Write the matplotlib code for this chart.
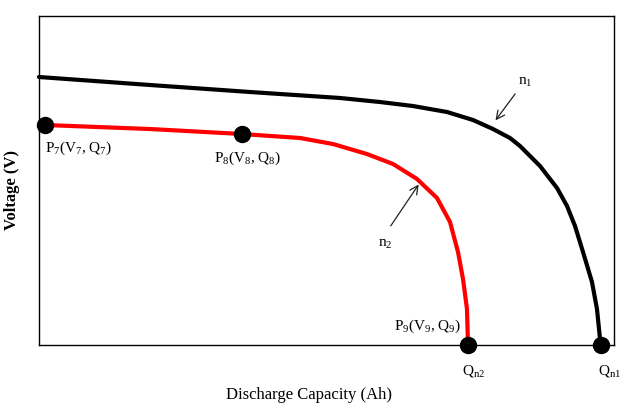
import matplotlib
matplotlib.use('Agg')
import matplotlib.pyplot as plt

# curve n1 (black) - capacity / voltage, normalised 0..100
n1_cap = [0, 19.30, 36.70, 52.35, 59.30, 65.04, 70.96, 75.48, 78.96, 81.91, 83.65,
          87.13, 90.09, 91.83, 93.22, 94.61, 96.17, 97.04, 97.57, 97.74]
n1_volt = [81.46, 79.03, 76.90, 75.08, 73.86, 72.64, 70.82, 68.39, 65.65, 62.92, 60.49,
           54.41, 47.72, 42.25, 36.17, 28.27, 19.15, 10.94, 1.82, 0]

# curve n2 (red)
n2_cap = [0, 1.04, 19.30, 35.30, 45.39, 51.13, 57.04, 61.57, 65.74, 69.22, 71.48,
          72.87, 73.74, 74.43, 74.61]
n2_volt = [67.17, 66.87, 65.65, 64.13, 62.92, 61.09, 58.05, 55.02, 50.46, 44.68, 37.39,
           28.27, 20.06, 10.94, 0]

# marked points
pt_cap = [1.04, 35.30, 74.61, 97.74]
pt_volt = [66.87, 64.13, 0, 0]
pt_labels = ['P$_7$(V$_7$, Q$_7$)', 'P$_8$(V$_8$, Q$_8$)', 'P$_9$(V$_9$, Q$_9$)']

plt.rcParams['font.family'] = 'Liberation Serif'
plt.rcParams['mathtext.fontset'] = 'custom'
plt.rcParams['mathtext.rm'] = 'Liberation Serif'
plt.rcParams['mathtext.it'] = 'Liberation Serif'

fig = plt.figure(figsize=(6.25, 4.06), dpi=100)
ax = fig.add_axes([0.0624, 0.1478, 0.92, 0.8103])
ax.set_xlim(0, 100)
ax.set_ylim(0, 100)
ax.set_xticks([])
ax.set_yticks([])
for s in ax.spines.values():
    s.set_linewidth(1.0)

ax.plot(n1_cap, n1_volt, color='black', lw=3, solid_capstyle='round',
        solid_joinstyle='round', clip_on=False)
ax.plot(n2_cap, n2_volt, color='#ff0000', lw=3, solid_capstyle='round',
        solid_joinstyle='round', clip_on=False)
ax.plot(pt_cap, pt_volt, 'o', color='black', ms=11.5, clip_on=False, zorder=5)

fs = 11
ax.annotate(pt_labels[0], (pt_cap[0], pt_volt[0]), xytext=(0, -16), textcoords='offset points',
            ha='left', va='center', fontsize=fs)
ax.annotate(pt_labels[1], (pt_cap[1], pt_volt[1]), xytext=(-20, -17), textcoords='offset points',
            ha='left', va='center', fontsize=fs)
ax.annotate(pt_labels[2], (pt_cap[2], pt_volt[2]), xytext=(-5, 14), textcoords='offset points',
            ha='right', va='center', fontsize=fs)
ax.annotate('Q$_{n2}$', (pt_cap[2], 0), xytext=(4, -18), textcoords='offset points',
            ha='center', va='center', fontsize=fs, annotation_clip=False)
ax.annotate('Q$_{n1}$', (pt_cap[3], 0), xytext=(6, -18), textcoords='offset points',
            ha='center', va='center', fontsize=fs, annotation_clip=False)

# curve name arrows
ax.annotate('', xy=(79.1, 67.6), xytext=(83.1, 77.0),
            arrowprops=dict(arrowstyle='->', color='#222222', lw=0.9, mutation_scale=15))
ax.text(84.6, 80.0, 'n$_1$', fontsize=fs, ha='center', va='center')
ax.annotate('', xy=(66.3, 49.5), xytext=(60.9, 35.5),
            arrowprops=dict(arrowstyle='->', color='#222222', lw=0.9, mutation_scale=15))
ax.text(60.2, 31.0, 'n$_2$', fontsize=fs, ha='center', va='center')

fig.text(309 / 625, 1 - 395 / 406, 'Discharge Capacity (Ah)', ha='center', va='center', fontsize=12)
fig.text(12 / 625, 1 - 190 / 406, 'Voltage (V)', ha='center', va='center', rotation=90,
         fontsize=12, fontweight='bold')

fig.savefig('out.png', dpi=100)
